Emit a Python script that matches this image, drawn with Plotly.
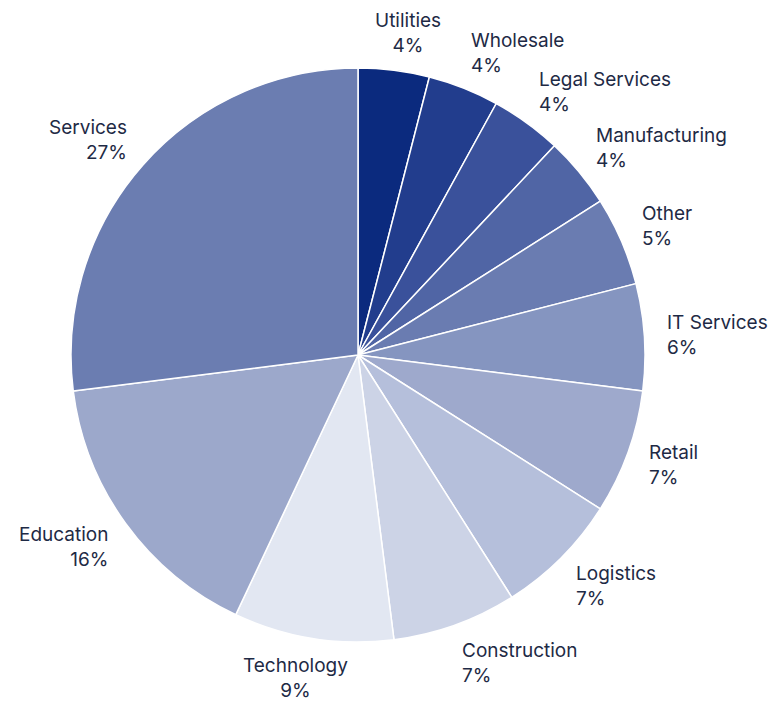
import math
import plotly.graph_objects as go

# Share of respondents by industry (clockwise from 12 o'clock)
industries = ["Utilities", "Wholesale", "Legal Services", "Manufacturing", "Other",
              "IT Services", "Retail", "Logistics", "Construction", "Technology",
              "Education", "Services"]
shares = [4, 4, 4, 4, 5, 6, 7, 7, 7, 9, 16, 27]
slice_colors = ["#0b2a7e", "#223d8d", "#3a519b", "#5065a5", "#6a7cb1", "#8595c0",
                "#9ea9cc", "#b5bfdb", "#ccd3e6", "#e2e7f2", "#9ca8cb", "#6b7db1"]

W, H = 769, 704
CX, CY, R = 358, 355, 287          # pie centre and radius in pixels
TEXT_COLOR = "#1e2a45"
FONT = "Inter, 'Open Sans', sans-serif"

fig = go.Figure(go.Pie(
    labels=industries,
    values=shares,
    sort=False,
    direction="clockwise",
    rotation=0,
    marker=dict(colors=slice_colors, line=dict(color="white", width=1.5)),
    textinfo="none",
    hoverinfo="label+percent",
    showlegend=False,
    domain=dict(x=[(CX - R) / W, (CX + R) / W],
                y=[1 - (CY + R) / H, 1 - (CY - R) / H]),
))

# Outside labels: "name<br>pct%", anchored just beyond the rim at each slice's mid-angle
total = sum(shares)
acc = 0.0
annotations = []
for name, v in zip(industries, shares):
    mid = (acc + v / 2) / total * 2 * math.pi
    acc += v
    s, c = math.sin(mid), math.cos(mid)
    px = CX + (R + 14) * s + 8 * s * abs(s)
    py = CY - (R + 14) * c
    if s > 0.2:
        xanchor, align = "left", "left"
    elif s < -0.2:
        xanchor, align = "right", "right"
    else:
        xanchor, align = "center", "center"
        px += 100 * s
    yc = py - 24 * c
    if c < 0:
        yc += 2 * c * c
    annotations.append(dict(
        x=px / W, y=1 - yc / H, xref="paper", yref="paper",
        xanchor=xanchor, yanchor="middle", align=align,
        text=f"{name}<br>{round(v / total * 100)}%",
        showarrow=False, borderpad=0,
        font=dict(family=FONT, size=19, color=TEXT_COLOR),
    ))

fig.update_layout(
    width=W, height=H,
    margin=dict(l=0, r=0, t=0, b=0),
    paper_bgcolor="white",
    plot_bgcolor="white",
    annotations=annotations,
)

fig.write_html("out.html")
